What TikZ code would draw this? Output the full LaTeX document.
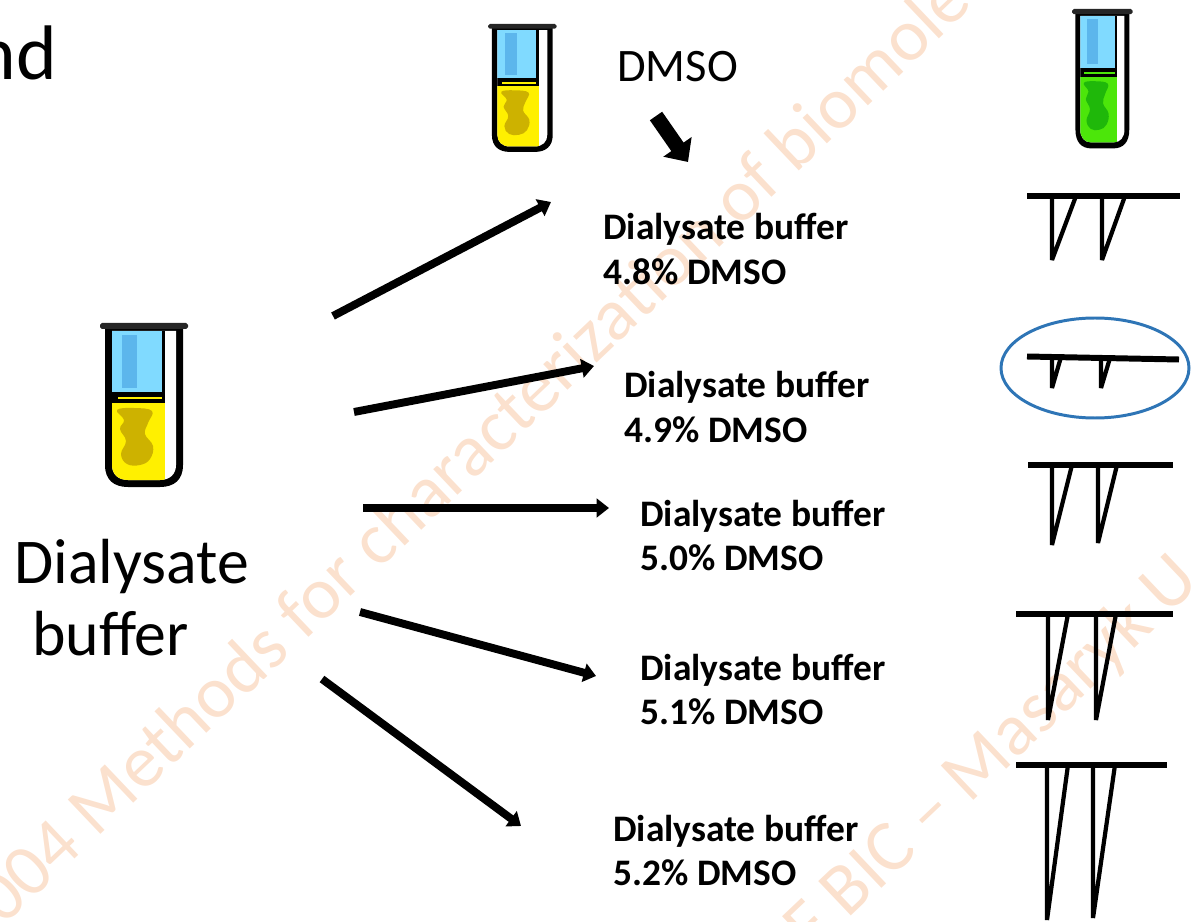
\documentclass[tikz,border=0pt]{standalone}
\usepackage{fontspec}
\setmainfont{Carlito}
\usetikzlibrary{arrows.meta}

\definecolor{wmark}{RGB}{251,225,206}
\definecolor{tubeblue}{RGB}{128,218,255}
\definecolor{tubeblue2}{RGB}{92,182,236}
\definecolor{liqyellow}{RGB}{255,240,0}
\definecolor{liqyellow2}{RGB}{205,178,0}
\definecolor{liqgreen}{RGB}{76,230,10}
\definecolor{liqgreen2}{RGB}{31,184,10}
\definecolor{ringblue}{RGB}{46,117,182}

\newcommand\dbuflabel[1]{\begin{tabular}[t]{@{}l@{}}Dialysate buffer\\#1\end{tabular}}

\tikzset{
  % a test tube with a two-tone liquid
  pics/tube/.style n args={2}{code={
    \fill[black] (5,3) -- (5,142) .. controls (5,157) and (14,164) .. (28,164)
      -- (60,164) .. controls (74,164) and (83,157) .. (83,142) -- (83,3) -- cycle;
    \begin{scope}
      \clip (12,8) -- (12,142) .. controls (12,151) and (18,157) .. (28,157)
        -- (60,157) .. controls (70,157) and (76,151) .. (76,142) -- (76,8) -- cycle;
      \fill[white] (0,0) rectangle (88,170);
      \fill[tubeblue] (12,8) rectangle (62,69);
      \fill[tubeblue2] (22,12) rectangle (37,65);
      \fill[black] (12,69) rectangle (65,80);
      \fill[black] (62,8) rectangle (65,69);
      \fill[#1] (18,74) rectangle (62,76.5);
      \fill[#1] (12,80) rectangle (65,170);
      \fill[#2] plot[smooth cycle, tension=0.7] coordinates {
        (17,87) (34,85) (52,88) (48,100) (45,111) (53,123) (50,136) (40,142)
        (27,141) (21,131) (26,118) (20,106) (24,97)};
    \end{scope}
    \fill[black!85, rounded corners=1pt] (0,0) rectangle (88,6);
  }},
  conn/.style={line width=4.5pt, -{Triangle[length=7pt,width=10.5pt]}},
  blockarrow/.style={line width=8.5pt, -{Triangle[length=10.5pt,width=19pt]}},
  lab/.style={font=\fontsize{21.3}{25.5}\selectfont\bfseries, anchor=base west, inner sep=0pt},
  bigtext/.style={font=\fontsize{36.3}{43}\selectfont, anchor=base west, inner sep=0pt},
  wm/.style={font=\fontsize{42}{50}\selectfont, text=wmark, rotate=43.5, anchor=base west, inner sep=0pt},
  peakbar/.style={line width=3.4pt},
  spike/.style={line width=2.4pt, line join=bevel},
}

\begin{document}
\begin{tikzpicture}[x=0.02cm, y=-0.02cm]
\useasboundingbox (0,0) rectangle (1191,922);

% watermark
\node[wm] (wm1) at (3,927) {004 Methods for characterization of biomolec};
\node[wm] (wm2) at (811,955) {F BIC – Masaryk U};

% heading fragment
\node[font=\fontsize{44}{52}\selectfont, anchor=base east, inner sep=0pt] (head) at (57,80) {nd};

% tubes
\pic (tubeL) at (100,323) {tube={liqyellow}{liqyellow2}};
\pic[scale=0.78] (tubeT) at (488,24) {tube={liqyellow}{liqyellow2}};
\pic[xscale=0.69, yscale=0.85] (tubeG) at (1072,9) {tube={liqgreen}{liqgreen2}};

% source label
\node[bigtext] (src1) at (14,583) {Dialysate};
\node[bigtext] (src2) at (32,655) {buffer};

% DMSO addition
\node[font=\fontsize{26.5}{32}\selectfont, anchor=base west, inner sep=0pt] (dmso) at (617,82) {DMSO};
\coordinate (dA) at (656,116);
\coordinate (dB) at (688,162);
\draw[blockarrow] (dA) -- (dB);

% dilution labels
\node[lab] (l1) at (603,240) {\dbuflabel{4.8\% DMSO}};
\node[lab] (l2) at (624,398) {\dbuflabel{4.9\% DMSO}};
\node[lab] (l3) at (640,526) {\dbuflabel{5.0\% DMSO}};
\node[lab] (l4) at (640,680) {\dbuflabel{5.1\% DMSO}};
\node[lab] (l5) at (613,841) {\dbuflabel{5.2\% DMSO}};

% arrows from the source buffer
\coordinate (s1) at (333,316); \coordinate (e1) at (551,202);
\coordinate (s2) at (354,412); \coordinate (e2) at (594,366);
\coordinate (s3) at (363,508); \coordinate (e3) at (609,508);
\coordinate (s4) at (360,612); \coordinate (e4) at (596,676);
\coordinate (s5) at (322,679); \coordinate (e5) at (521,826);
\draw[conn] (s1) -- (e1);
\draw[conn] (s2) -- (e2);
\draw[conn] (s3) -- (e3);
\draw[conn] (s4) -- (e4);
\draw[conn] (s5) -- (e5);

% titration peaks
\draw[peakbar] (1027,196) -- (1180,196);
\draw[spike] (1052,196) -- (1052,260) -- (1076,196);
\draw[spike] (1102,196) -- (1102,260) -- (1125,196);

\draw[peakbar] (1027,356.5) -- (1179,359.5);
\draw[spike] (1052,357) -- (1052,388) -- (1061,357);
\draw[spike] (1101,358) -- (1101,388) -- (1110,358);
\draw[ringblue, line width=1.7pt] (1095,368) ellipse [x radius=94, y radius=50];

\draw[peakbar] (1028,465) -- (1173,465);
\draw[spike] (1052,465) -- (1052,545) -- (1072,465);
\draw[spike] (1098,465) -- (1098,543) -- (1117,465);

\draw[peakbar] (1016,614) -- (1173,614);
\draw[spike] (1048,614) -- (1048,720) -- (1068,614);
\draw[spike] (1096,614) -- (1096,720) -- (1116,614);

\draw[peakbar] (1016,765) -- (1167,765);
\draw[spike] (1047,765) -- (1047,920) -- (1068,765);
\draw[spike] (1093,765) -- (1093,918) -- (1115,765);
\end{tikzpicture}
\end{document}
